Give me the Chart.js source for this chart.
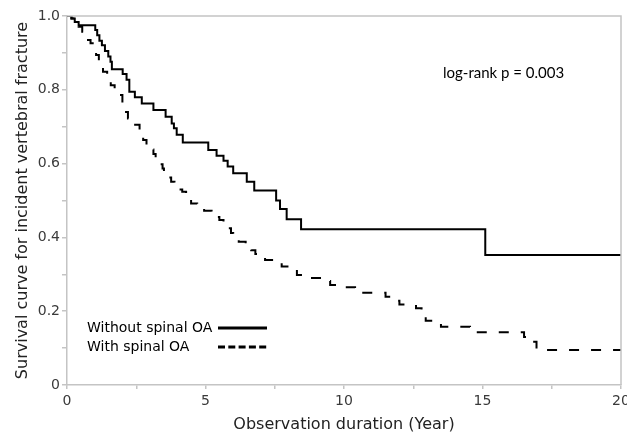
<!DOCTYPE html>
<html>
<head>
<meta charset="utf-8">
<script src="https://cdn.jsdelivr.net/npm/chart.js@4"></script>
<style>
    html, body { margin: 0; padding: 0; background: #fff; overflow: hidden; }
    #wrap { width: 640px; height: 435px; }
</style>
</head>
<body>
<div id="wrap"><canvas id="chartKM"></canvas></div>
<script>
// Kaplan-Meier: tiempos (años) y supervivencia tras cada evento
const timesWithout = [0, 0.16, 0.28, 0.42, 1.02, 1.09, 1.17, 1.26, 1.37, 1.49, 1.57, 1.62, 2.01, 2.15, 2.25, 2.45, 2.70,
    3.12, 3.56, 3.78, 3.86, 3.96, 4.18, 5.10, 5.40, 5.65, 5.80, 6.00, 6.49, 6.76, 7.55, 7.69, 7.93, 8.45, 15.1, 20];
const survWithout = [1.0, 0.993, 0.984, 0.975, 0.962, 0.948, 0.933, 0.921, 0.905, 0.890, 0.876, 0.856, 0.843, 0.827, 0.795, 0.780, 0.763,
    0.745, 0.727, 0.709, 0.696, 0.678, 0.657, 0.637, 0.621, 0.608, 0.592, 0.574, 0.551, 0.527, 0.500, 0.477, 0.449, 0.422, 0.352, 0.352];

const timesWith = [0, 0.16, 0.28, 0.42, 0.55, 0.65, 0.72, 0.85, 1.00, 1.05, 1.15, 1.30, 1.45, 1.58, 1.72, 1.85, 2.00, 2.20, 2.40,
    2.62, 2.75, 2.87, 3.00, 3.12, 3.20, 3.32, 3.45, 3.50, 3.62, 3.76, 3.88, 4.05, 4.16, 4.30, 4.40, 4.48, 4.70, 4.95, 5.22,
    5.40, 5.50, 5.65, 5.80, 5.92, 6.00, 6.20, 6.45, 6.65, 6.80, 6.95, 7.15, 7.45, 7.75, 8.05, 8.30, 8.50, 9.20, 9.50, 9.80,
    10.40, 11.50, 11.70, 12.00, 12.60, 12.80, 12.95, 13.30, 13.50, 14.55, 16.50, 16.60, 16.95, 20];
const survWith = [1.0, 0.993, 0.984, 0.971, 0.957, 0.945, 0.935, 0.926, 0.905, 0.894, 0.876, 0.849, 0.837, 0.812, 0.798, 0.786, 0.740, 0.722, 0.705,
    0.691, 0.664, 0.650, 0.638, 0.626, 0.610, 0.598, 0.587, 0.573, 0.562, 0.551, 0.539, 0.530, 0.524, 0.517, 0.505, 0.492, 0.484, 0.472, 0.465,
    0.455, 0.447, 0.434, 0.425, 0.412, 0.400, 0.388, 0.375, 0.365, 0.355, 0.348, 0.339, 0.330, 0.321, 0.312, 0.298, 0.290, 0.282, 0.271, 0.265,
    0.250, 0.239, 0.228, 0.218, 0.208, 0.194, 0.174, 0.169, 0.158, 0.143, 0.130, 0.117, 0.095, 0.095];

const seriesLabels = ['Without spinal OA', 'With spinal OA'];
const tickLabelsX = ['0', '5', '10', '15', '20'];
const tickLabelsY = ['0', '0.2', '0.4', '0.6', '0.8', '1.0'];
const annotationText = 'log-rank p = 0.003';

const axisGrey = '#c4c4c4';
const textGrey = '#3a3a3a';
const fontMain = "'DejaVu Sans', Verdana, sans-serif";

function toPoints(times, surv) {
    return times.map((t, i) => ({ x: t, y: surv[i] }));
}

// Marco superior/derecho, leyenda y texto del log-rank
const extrasPlugin = {
    id: 'extras',
    afterDraw(chart) {
        const ctx = chart.ctx;
        const area = chart.chartArea;
        ctx.save();
        ctx.strokeStyle = axisGrey;
        ctx.lineWidth = 1.5;
        ctx.beginPath();
        ctx.moveTo(area.left, area.top);
        ctx.lineTo(area.right, area.top);
        ctx.lineTo(area.right, area.bottom);
        ctx.stroke();

        // leyenda
        ctx.fillStyle = '#000';
        ctx.font = '14px ' + fontMain;
        ctx.textBaseline = 'middle';
        const rows = [328, 347];
        chart.data.datasets.forEach((ds, i) => {
            ctx.fillText(ds.label, 87, rows[i]);
            ctx.strokeStyle = '#000';
            ctx.lineWidth = 3;
            ctx.setLineDash(i === 0 ? [] : [7, 3.3]);
            ctx.beginPath();
            ctx.moveTo(218, rows[i]);
            ctx.lineTo(267, rows[i]);
            ctx.stroke();
        });
        ctx.setLineDash([]);

        ctx.font = "15px Lato, 'Open Sans', sans-serif";
        ctx.fillText(annotationText, 443, 73);
        ctx.restore();
    }
};

const ctxKM = document.getElementById('chartKM');
new Chart(ctxKM, {
    type: 'line',
    data: {
        datasets: [{
            label: seriesLabels[0],
            data: toPoints(timesWithout, survWithout),
            borderColor: '#000',
            borderWidth: 2,
            stepped: 'before',
            pointRadius: 0,
            fill: false
        }, {
            label: seriesLabels[1],
            data: toPoints(timesWith, survWith),
            borderColor: '#000',
            borderWidth: 2,
            borderDash: [10, 12],
            stepped: 'before',
            pointRadius: 0,
            fill: false
        }]
    },
    options: {
        responsive: true,
        maintainAspectRatio: false,
        animation: false,
        layout: {
            padding: { top: 16, right: 19, bottom: 0, left: 0 }
        },
        plugins: {
            legend: { display: false },
            tooltip: { enabled: false }
        },
        scales: {
            x: {
                type: 'linear',
                min: 0,
                max: 20,
                afterFit: function (scale) { scale.height = 50; },
                border: { color: axisGrey, width: 1.5 },
                grid: { drawOnChartArea: false, color: axisGrey, tickLength: 4, lineWidth: 1.5 },
                ticks: {
                    stepSize: 2.5,
                    autoSkip: false,
                    maxRotation: 0,
                    padding: 4,
                    color: textGrey,
                    font: { family: fontMain, size: 14 },
                    callback: function (value) {
                        return value % 5 === 0 ? tickLabelsX[value / 5] : '';
                    }
                },
                title: {
                    display: true,
                    text: 'Observation duration (Year)',
                    color: '#222',
                    font: { family: fontMain, size: 16 },
                    padding: { top: 0, bottom: 1 }
                }
            },
            y: {
                min: 0,
                max: 1,
                afterFit: function (scale) { scale.width = 67; },
                border: { color: axisGrey, width: 1.5 },
                grid: { drawOnChartArea: false, color: axisGrey, tickLength: 5, lineWidth: 1.5 },
                ticks: {
                    stepSize: 0.1,
                    autoSkip: false,
                    padding: 2,
                    color: textGrey,
                    font: { family: fontMain, size: 14 },
                    callback: function (value) {
                        const idx = Math.round(value * 10);
                        return idx % 2 === 0 ? tickLabelsY[idx / 2] : '';
                    }
                },
                title: {
                    display: true,
                    text: 'Survival curve for incident vertebral fracture',
                    color: '#222',
                    font: { family: fontMain, size: 16 },
                    padding: { top: 13, bottom: 0 }
                }
            }
        }
    },
    plugins: [extrasPlugin]
});
</script>
</body>
</html>
